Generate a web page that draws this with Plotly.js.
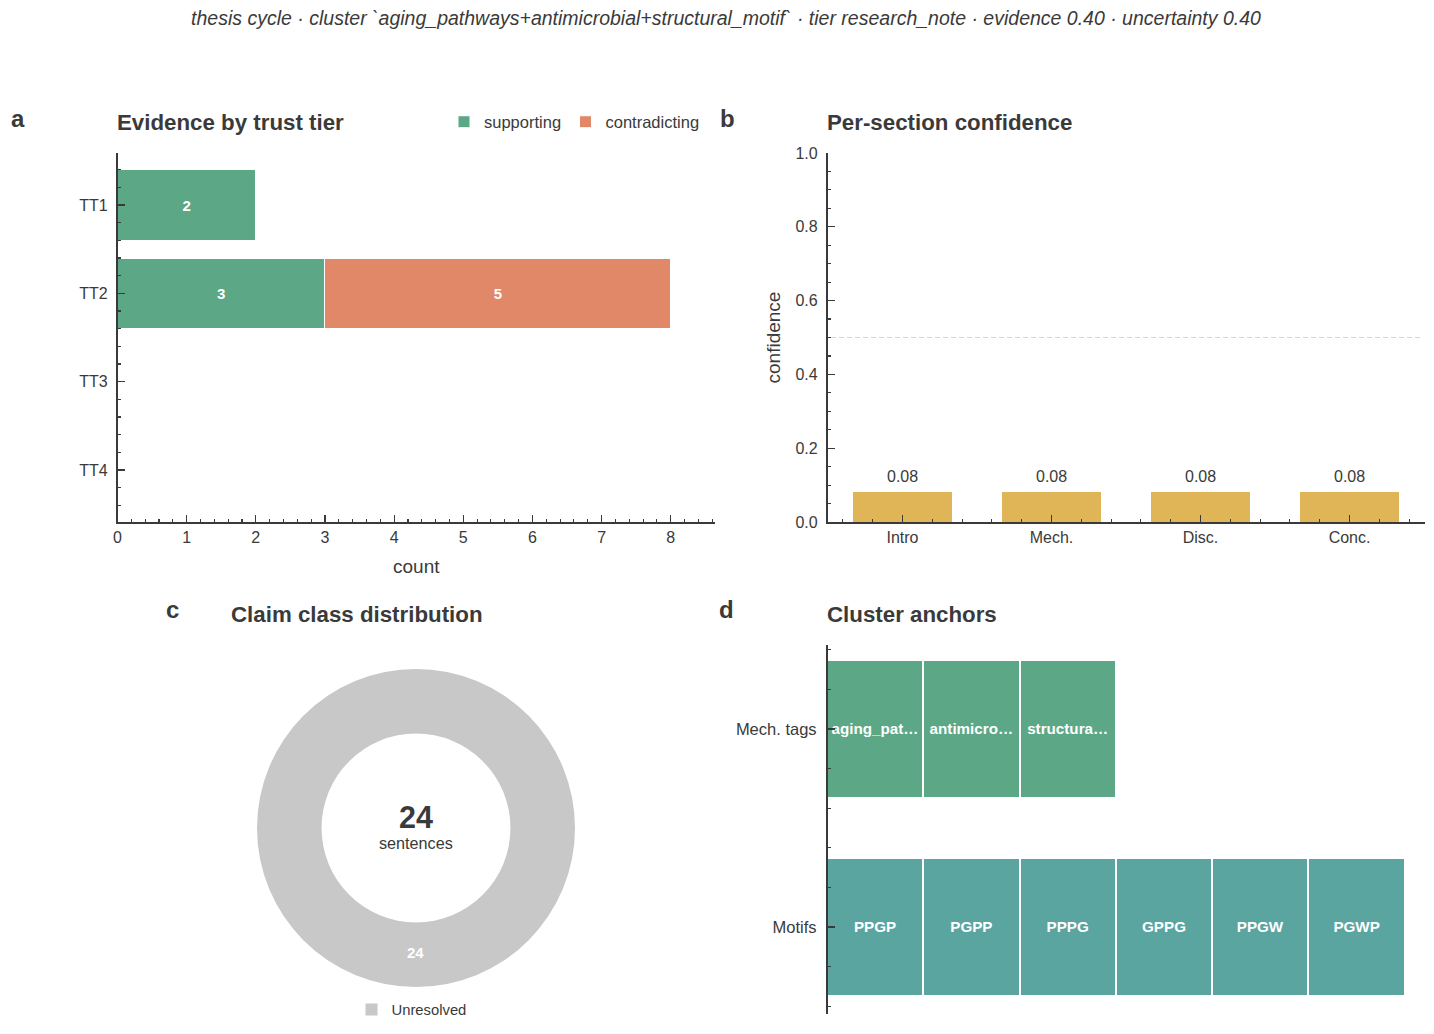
<!DOCTYPE html>
<html><head><meta charset="utf-8">
<script src="https://cdn.plot.ly/plotly-3.0.1.min.js"></script>
<style>html,body{margin:0;padding:0;background:#fff}#c{width:1434px;height:1034px}</style>
</head><body><div id="c"></div>
<script>
const tiers=['TT1','TT2','TT3','TT4'];
const supporting=[2,3,0,0];
const contradicting=[0,5,0,0];
const sections=['Intro','Mech.','Disc.','Conc.'];
const confidence=[0.08,0.08,0.08,0.08];
const claimClasses=['Unresolved'];
const claimCounts=[24];
const anchorRows=['Mech. tags','Motifs'];
const mechTags=['aging_pat…','antimicro…','structura…'];
const motifs=['PPGP','PGPP','PPPG','GPPG','PPGW','PGWP'];

const W=1434,H=1034;
const INK='#3a3a3a', FONT='"Liberation Sans", Arial, sans-serif';
const GREEN='#5ba786', ORANGE='#e08868', GOLD='#dfb558', TEAL='#5ba5a1', GREY='#c8c8c8';
const px=(a,b)=>[a/W,b/W], py=(top,bot)=>[1-bot/H,1-top/H];

const tierIdx=tiers.map((_,i)=>i);
const sectionIdx=sections.map((_,i)=>i);
const lab=v=>v.map(n=>n>0?String(n):'');
const barTxt={color:'#fff',size:15,family:FONT,weight:700};
const data=[
 {type:'bar',orientation:'h',name:'supporting',legend:'legend',x:supporting,y:tierIdx,width:0.8,text:lab(supporting),textposition:'inside',insidetextanchor:'middle',textangle:0,constraintext:'none',insidetextfont:barTxt,marker:{color:GREEN,line:{color:'#fff',width:1}},xaxis:'x',yaxis:'y',hoverinfo:'skip'},
 {type:'bar',orientation:'h',name:'contradicting',legend:'legend3',x:contradicting,y:tierIdx,width:0.8,text:lab(contradicting),textposition:'inside',insidetextanchor:'middle',textangle:0,constraintext:'none',insidetextfont:barTxt,marker:{color:ORANGE,line:{color:'#fff',width:1}},xaxis:'x',yaxis:'y',hoverinfo:'skip'},
 {type:'bar',x:sectionIdx,y:confidence,width:0.66,marker:{color:GOLD},xaxis:'x2',yaxis:'y2',showlegend:false,hoverinfo:'skip'},
 {type:'pie',labels:claimClasses,values:claimCounts,hole:0.594,sort:false,domain:{x:px(257,575),y:py(669,987)},marker:{colors:[GREY]},textinfo:'none',showlegend:true,legend:'legend2',hoverinfo:'skip'}
];
const barTxt2=Object.assign({},barTxt,{size:15.2});
mechTags.forEach(t=>data.push({type:'bar',orientation:'h',x:[1],y:[0],width:0.7,text:[t],textposition:'inside',insidetextanchor:'middle',textangle:0,constraintext:'none',insidetextfont:barTxt2,marker:{color:GREEN,line:{color:'#fff',width:2}},xaxis:'x3',yaxis:'y3',showlegend:false,hoverinfo:'skip'}));
motifs.forEach(t=>data.push({type:'bar',orientation:'h',x:[1],y:[1],width:0.7,text:[t],textposition:'inside',insidetextanchor:'middle',textangle:0,constraintext:'none',insidetextfont:barTxt2,marker:{color:TEAL,line:{color:'#fff',width:2}},xaxis:'x3',yaxis:'y3',showlegend:false,hoverinfo:'skip'}));

const ax=(extra)=>Object.assign({showgrid:false,zeroline:false,showline:true,linecolor:INK,linewidth:1.6,ticks:'inside',ticklen:7,tickwidth:1.2,tickcolor:INK,tickfont:{size:16,color:INK,family:FONT},ticklabelstandoff:5,fixedrange:true},extra);
const minor=(d)=>({dtick:d,ticks:'inside',ticklen:3.5,tickwidth:1.1,tickcolor:INK,showgrid:false});
const axTitle=(t,s)=>({text:t,font:{size:19,color:INK,family:FONT},standoff:s});
const legendFont={size:16.5,color:INK,family:FONT};

const note=(t,x,y,size,anchor,bold)=>({text:bold?'<b>'+t+'</b>':t,xref:'paper',yref:'paper',x:x/W,y:1-y/H,xanchor:anchor,yanchor:'middle',showarrow:false,font:{size:size,color:INK,family:FONT}});

const layout={
 width:W,height:H,margin:{l:0,r:0,t:0,b:0,pad:0},paper_bgcolor:'#fff',plot_bgcolor:'#fff',barmode:'stack',bargap:0,showlegend:true,font:{family:FONT,color:INK},
 title:{text:'thesis cycle · cluster `aging_pathways+antimicrobial+structural_motif` · tier research_note · evidence 0.40 · uncertainty 0.40',font:{size:19.5,color:INK,family:FONT,style:'italic'},x:726/W,xanchor:'center',y:1-18/H,yanchor:'middle'},
 xaxis:ax({domain:px(117.5,715),anchor:'y',range:[0,8.64],tickmode:'linear',tick0:0,dtick:1,minor:minor(0.2),ticklabelstandoff:0,title:axTitle('count',15)}),
 yaxis:ax({domain:py(153,522),anchor:'x',range:[3.59,-0.59],tickmode:'array',tickvals:tierIdx,ticktext:tiers,minor:minor(0.2)}),
 xaxis2:ax({domain:px(827.5,1424.5),anchor:'y2',range:[-0.503,3.503],tickmode:'array',tickvals:sectionIdx,ticktext:sections,minor:minor(0.2),ticklabelstandoff:0}),
 yaxis2:ax({domain:py(153,522),anchor:'x2',range:[0,1],tickmode:'linear',tick0:0,dtick:0.2,tickformat:'.1f',minor:minor(0.05),title:axTitle('confidence',10)}),
 xaxis3:{domain:px(827.5,1424.5),anchor:'y3',range:[0.006,6.205],visible:false,fixedrange:true},
 yaxis3:ax({domain:py(645,1014),anchor:'x3',range:[1.44,-0.424],tickmode:'array',tickvals:anchorRows.map((_,i)=>i),ticktext:anchorRows,minor:minor(0.2),tickfont:{size:16.5,color:INK,family:FONT},ticklabelstandoff:6}),
 legend:{orientation:'h',x:444/W,y:1-122/H,xanchor:'left',yanchor:'middle',font:legendFont,bgcolor:'rgba(0,0,0,0)'},
 legend3:{orientation:'h',x:565.5/W,y:1-122/H,xanchor:'left',yanchor:'middle',font:legendFont,bgcolor:'rgba(0,0,0,0)'},
 legend2:{orientation:'h',x:411.5/W,y:1-1010/H,xanchor:'center',yanchor:'middle',font:{size:14.8,color:INK,family:FONT},bgcolor:'rgba(0,0,0,0)'},
 shapes:[{type:'line',xref:'x2',yref:'y2',x0:-0.48,x1:3.48,y0:0.5,y1:0.5,line:{color:'#d6d6d6',width:1.2,dash:'5px,3px'}}],
 annotations:[
  note('a',18,119,24,'center',true),
  note('b',727,118,24,'center',true),
  note('c',172,609,24,'center',true),
  note('d',726,609,24,'center',true),
  note('Evidence by trust tier',115,122.5,22.3,'left',true),
  note('Per-section confidence',825,122.5,22.3,'left',true),
  note('Claim class distribution',356.5,614,22.3,'center',true),
  note('Cluster anchors',825,614,22.3,'left',true),
  note(String(claimCounts[0]),416,817,30.5,'center',true),
  note('sentences',416,843,16.2,'center',false),
  {text:'<b>'+claimCounts[0]+'</b>',xref:'paper',yref:'paper',x:416/W,y:1-952/H,xanchor:'center',yanchor:'middle',showarrow:false,font:{size:15,color:'#fff',family:FONT}}
 ].concat(confidence.map((v,i)=>({text:v.toFixed(2),xref:'x2',yref:'y2',x:i,y:v,yshift:16,xanchor:'center',yanchor:'middle',showarrow:false,font:{size:16,color:INK,family:FONT}})))
};
Plotly.newPlot('c',data,layout,{displayModeBar:false,staticPlot:true});
</script></body></html>
